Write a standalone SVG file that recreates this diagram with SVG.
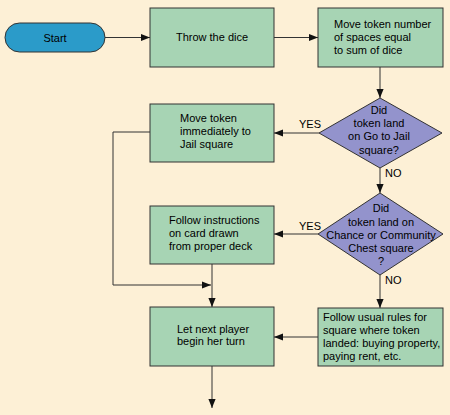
<svg xmlns="http://www.w3.org/2000/svg" width="450" height="415" viewBox="0 0 450 415">
<style>
.box{fill:#a7d4b4;stroke:#333;stroke-width:1}
.dia{fill:#9393cc;stroke:#333;stroke-width:1}
.start{fill:#2b9bc9;stroke:#333;stroke-width:1}
text{font-family:"Liberation Sans",Arial,sans-serif;font-size:11px;fill:#000}
.c{text-anchor:middle}
.ln{fill:none;stroke:#333;stroke-width:1}
</style>
<defs>
<marker id="ah" viewBox="0 0 10 10" refX="10" refY="5" markerWidth="9" markerHeight="9" markerUnits="userSpaceOnUse" orient="auto">
<path d="M0,1 L10,5 L0,9 Z" fill="#111"/>
</marker>
</defs>
<rect width="450" height="415" fill="#fdf0d6"/>
<g id="connectors">
<path class="ln" d="M105,37.5 H150" marker-end="url(#ah)"/>
<path class="ln" d="M274,37.5 H318" marker-end="url(#ah)"/>
<path class="ln" d="M380,67 V98" marker-end="url(#ah)"/>
<path class="ln" d="M319,133 H274" marker-end="url(#ah)"/>
<path class="ln" d="M380,168 V193" marker-end="url(#ah)"/>
<path class="ln" d="M318,234 H274" marker-end="url(#ah)"/>
<path class="ln" d="M380,275 V308" marker-end="url(#ah)"/>
<path class="ln" d="M150,132 H113 V285 H211" marker-end="url(#ah)"/>
<path class="ln" d="M212,264 V307" marker-end="url(#ah)"/>
<path class="ln" d="M318,337 H274" marker-end="url(#ah)"/>
<path class="ln" d="M212,366 V408" marker-end="url(#ah)"/>
<text x="299" y="128">YES</text>
<text x="385" y="177">NO</text>
<text x="299" y="230">YES</text>
<text x="385" y="284">NO</text>
</g>
<g id="start">
<rect class="start" x="5" y="23" width="100" height="29" rx="14.5"/>
<text class="c" x="55" y="42">Start</text>
</g>
<g id="throw">
<rect class="box" x="150" y="8" width="124" height="59"/>
<text class="c" x="212" y="41">Throw the dice</text>
</g>
<g id="move">
<rect class="box" x="318" y="8" width="125" height="59"/>
<text x="334" y="28">Move token number</text>
<text x="334" y="41">of spaces equal</text>
<text x="334" y="54">to sum of dice</text>
</g>
<g id="jailq">
<polygon class="dia" points="380,98 442,133 380,168 319,133"/>
<text class="c" x="379" y="114">Did</text>
<text class="c" x="379" y="127">token land</text>
<text class="c" x="379" y="140">on Go to Jail</text>
<text class="c" x="379" y="154">square?</text>
</g>
<g id="jail">
<rect class="box" x="150" y="104" width="124" height="58"/>
<text x="180" y="122">Move token</text>
<text x="180" y="135">immediately to</text>
<text x="180" y="148">Jail square</text>
</g>
<g id="chanceq">
<polygon class="dia" points="380,193 443,234 380,275 318,234"/>
<text class="c" x="381" y="212">Did</text>
<text class="c" x="381" y="226">token land on</text>
<text class="c" x="381" y="239">Chance or Community</text>
<text class="c" x="381" y="252">Chest square</text>
<text class="c" x="381" y="265">?</text>
</g>
<g id="card">
<rect class="box" x="150" y="206" width="124" height="58"/>
<text x="169" y="224">Follow instructions</text>
<text x="169" y="237">on card drawn</text>
<text x="169" y="250">from proper deck</text>
</g>
<g id="next">
<rect class="box" x="150" y="307" width="124" height="59"/>
<text x="177" y="333">Let next player</text>
<text x="177" y="345">begin her turn</text>
</g>
<g id="usual">
<rect class="box" x="318" y="308" width="125" height="58"/>
<text x="323" y="321">Follow usual rules for</text>
<text x="323" y="334">square where token</text>
<text x="323" y="347">landed: buying property,</text>
<text x="323" y="360">paying rent, etc.</text>
</g>
</svg>
